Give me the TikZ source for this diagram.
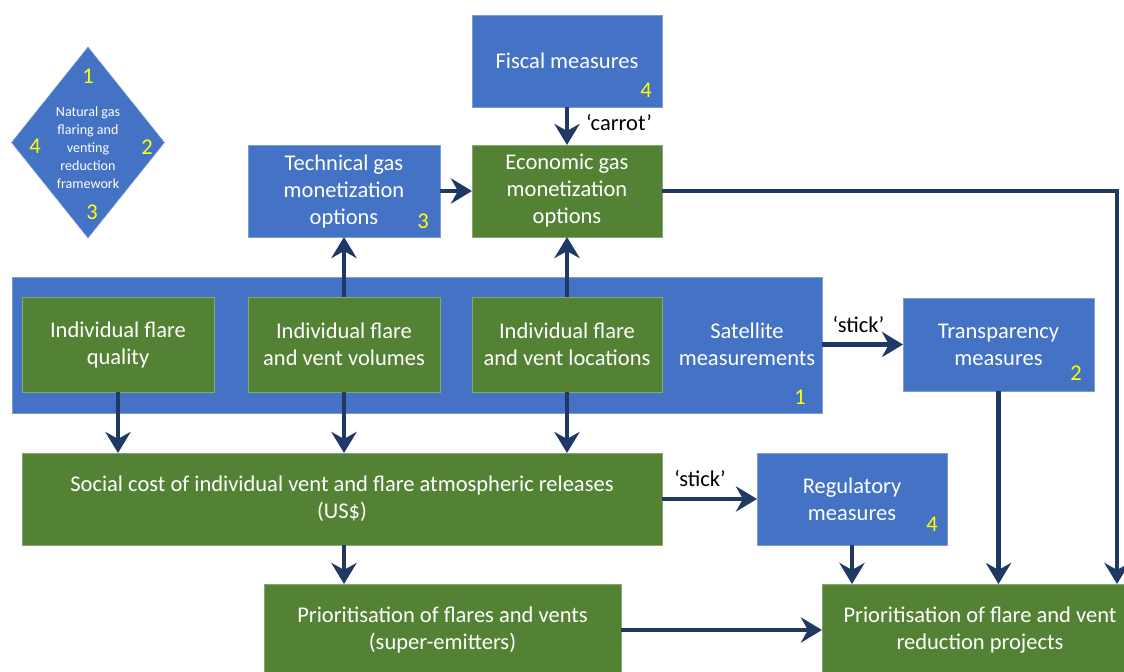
\documentclass[tikz,border=0pt]{standalone}
\usepackage{fontspec}
\setmainfont{Carlito}
\usepackage{tikz}
\usetikzlibrary{arrows.meta,shapes.geometric}

\definecolor{boxblue}{HTML}{4472C4}
\definecolor{boxgreen}{HTML}{548235}
\definecolor{lineblue}{HTML}{203864}
\definecolor{numyellow}{HTML}{FFFF00}

\begin{document}
\begin{tikzpicture} [x=0.025cm, y=-0.025cm,
	bluebox/.style = {rectangle, fill = boxblue, draw = boxblue!70!white, thin, text = white,
		align = center, inner sep = 0pt, outer sep = 0pt, font = \fontsize{16}{19.2}\selectfont},
	greenbox/.style = {bluebox, fill = boxgreen, draw = boxgreen!70!white},
	num/.style = {text = numyellow, font = \fontsize{16}{18}\selectfont, inner sep = 0pt},
	tag/.style = {text = black, font = \fontsize{16}{18}\selectfont, inner sep = 0pt},
	link/.style = {lineblue, line width = 3.2pt, -{Stealth[length=15pt, width=18pt, inset=5pt]}}]
	\useasboundingbox (0,0) rectangle (1124,671);
	% framework diamond
	\node [diamond, fill = boxblue, draw = boxblue!70!white, thin, inner sep = 0pt,
		minimum width = 3.825cm, minimum height = 4.775cm] (frame) at (88,142.5) {};
	\node [text = white, align = center, inner sep = 0pt,
		font = \fontsize{10}{12.8}\selectfont] (frametext) at (88,148)
		{Natural gas\\flaring and\\venting\\reduction\\framework};
	\node [num] (f1) at (88,76) {1};
	\node [num] (f2) at (147,147) {2};
	\node [num] (f3) at (92,212) {3};
	\node [num] (f4) at (35,146) {4};
	% top row
	\node [bluebox, minimum width = 4.75cm, minimum height = 2.3cm] (fiscal) at (567,61) {Fiscal measures};
	\node [num] (n4a) at (646,90) {4};
	\node [bluebox, minimum width = 4.8cm, minimum height = 2.3cm] (techn) at (344,191)
		{Technical gas\\monetization\\options};
	\node [num] (n3) at (423,221) {3};
	\node [greenbox, minimum width = 4.75cm, minimum height = 2.3cm] (econ) at (567,191)
		{Economic gas\\monetization\\options};
	% satellite block
	\node [bluebox, minimum width = 20.25cm, minimum height = 3.4cm] (sat) at (417,345) {};
	\node [text = white, font = \fontsize{16}{19.2}\selectfont, align = center] (sattext) at (747,344)
		{Satellite\\measurements};
	\node [num] (n1) at (800,397) {1};
	\node [greenbox, minimum width = 4.8cm, minimum height = 2.375cm] (quality) at (118,344.5)
		{Individual flare\\quality};
	\node [greenbox, minimum width = 4.8cm, minimum height = 2.375cm] (volumes) at (344,344.5)
		{Individual flare\\and vent volumes};
	\node [greenbox, minimum width = 4.75cm, minimum height = 2.375cm] (locations) at (567,344.5)
		{Individual flare\\and vent locations};
	\node [bluebox, minimum width = 4.775cm, minimum height = 2.325cm] (transp) at (998.5,344.5)
		{Transparency\\measures};
	\node [num] (n2) at (1076,373) {2};
	% lower rows
	\node [greenbox, minimum width = 16cm, minimum height = 2.3cm] (social) at (342,499)
		{Social cost of individual vent and flare atmospheric releases\\(US\$)};
	\node [bluebox, minimum width = 4.75cm, minimum height = 2.3cm] (regul) at (852,499)
		{Regulatory\\measures};
	\node [num] (n4b) at (932,524) {4};
	\node [greenbox, minimum width = 8.925cm, minimum height = 2.3cm] (priofl) at (442.5,630)
		{Prioritisation of flares and vents\\(super-emitters)};
	\node [greenbox, minimum width = 7.9cm, minimum height = 2.3cm] (prioproj) at (980,630)
		{Prioritisation of flare and vent\\reduction projects};
	\coordinate (corner) at (1117,191);
	% connectors
	\draw [link] (fiscal) -- (econ) node [tag, pos = 0.4, right = 12pt] {‘carrot’};
	\draw [link] (techn) -- (econ);
	\draw [link] (volumes) -- (techn);
	\draw [link] (locations) -- (econ);
	\draw [link] (econ.east) -- (corner) -- (corner |- prioproj.north);
	\draw [link] (sat.east |- transp.west) -- (transp.west) node [tag, pos = 0.45, above = 7pt] {‘stick’};
	\draw [link] (transp) -- (transp.south |- prioproj.north);
	\draw [link] (quality) -- (quality.south |- social.north);
	\draw [link] (volumes) -- (volumes.south |- social.north);
	\draw [link] (locations) -- (locations.south |- social.north);
	\draw [link] (social.east |- regul.west) -- (regul.west) node [tag, pos = 0.4, above = 7pt] {‘stick’};
	\draw [link] (regul) -- (regul.south |- prioproj.north);
	\draw [link] (social.south -| volumes.south) -- (volumes.south |- priofl.north);
	\draw [link] (priofl.east) -- (priofl.east -| prioproj.west);
\end{tikzpicture}
\end{document}
